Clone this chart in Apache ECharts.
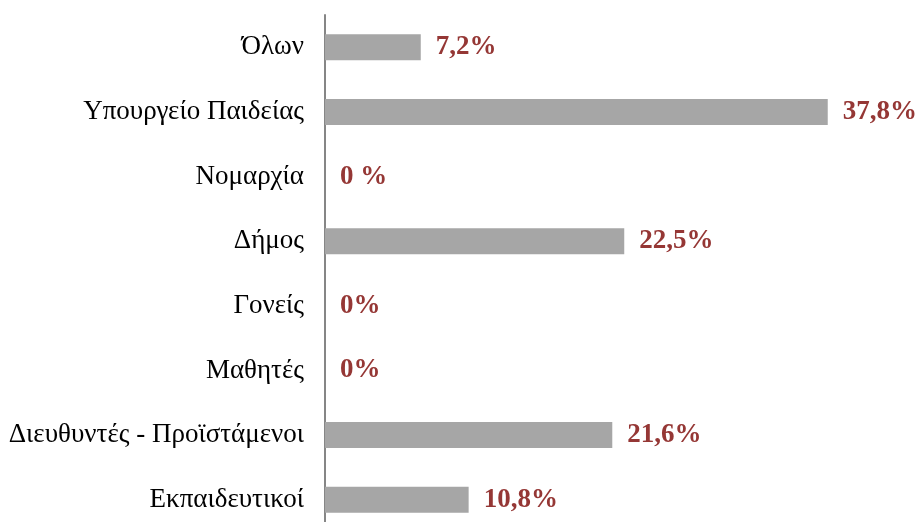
<!DOCTYPE html>
<html>
<head>
<meta charset="utf-8">
<script src="https://cdn.jsdelivr.net/npm/echarts@6/dist/echarts.min.js"></script>
<style>
  html, body { margin: 0; padding: 0; background: #fff; }
  #chart { width: 918px; height: 522px; }
</style>
</head>
<body>
<div id="chart"></div>
<script>
var categories = ["Όλων", "Υπουργείο Παιδείας", "Νομαρχία", "Δήμος", "Γονείς", "Μαθητές", "Διευθυντές - Προϊστάμενοι", "Εκπαιδευτικοί"];
var values = [7.2, 37.8, 0, 22.5, 0, 0, 21.6, 10.8];
var valueLabels = ["7,2%", "37,8%", "0 %", "22,5%", "0%", "0%", "21,6%", "10,8%"];

var chart = echarts.init(document.getElementById("chart"));
var option = {
  animation: false,
  grid: {
    left: 325, top: 15, width: 532, height: 517,
    containLabel: false,
    outerBoundsMode: "none"
  },
  xAxis: {
    type: "value",
    min: 0,
    max: 40,
    show: false
  },
  yAxis: {
    type: "category",
    inverse: true,
    data: categories,
    axisLine: { show: true, lineStyle: { color: "#868686", width: 2 } },
    axisTick: { show: false },
    axisLabel: {
      margin: 21,
      color: "#000",
      fontFamily: "Liberation Serif",
      fontSize: 27
    }
  },
  series: [
    {
      type: "bar",
      data: values,
      barWidth: 26,
      itemStyle: { color: "#a6a6a6" },
      label: {
        show: true,
        position: "right",
        distance: 15,
        color: "#953735",
        fontFamily: "Liberation Serif",
        fontWeight: "bold",
        fontSize: 27,
        formatter: function (p) { return valueLabels[p.dataIndex]; }
      }
    }
  ]
};
chart.setOption(option);
</script>
</body>
</html>
